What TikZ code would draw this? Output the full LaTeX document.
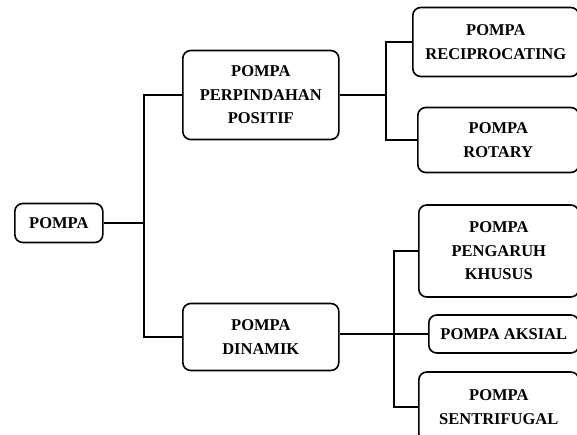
\documentclass[tikz,border=0pt]{standalone}
\usepackage{fontspec}
\setmainfont{Liberation Serif}
\usepackage{tikz}

\begin{document}
\begin{tikzpicture}[
        x=1pt, y=-1pt,
        % Styles
        pumpbox/.style={rectangle, draw, line width=1.6pt, rounded corners=8pt,
                align=center, inner sep=0pt, anchor=west,
                font=\bfseries\fontsize{16.5}{23.5}\selectfont},
        link/.style={line width=2.4pt, black},
        stub/.style={line width=1.8pt, black}, ]

        \useasboundingbox (0,0) rectangle (577,435);

        % === ROOT ===
        \node[pumpbox, minimum width=88pt, minimum height=39pt] (pompa) at (14,223) {POMPA};

        % === MAIN GROUPS ===
        \node[pumpbox, minimum width=156pt, minimum height=89pt] (positif) at (182,95) {POMPA\\PERPINDAHAN\\POSITIF};
        \node[pumpbox, minimum width=156pt, minimum height=67pt] (dinamik) at (182,337) {POMPA\\DINAMIK};

        % === POSITIVE DISPLACEMENT TYPES ===
        \node[pumpbox, minimum width=166pt, minimum height=69pt] (recip) at (412,42) {POMPA\\RECIPROCATING};
        \node[pumpbox, minimum width=161pt, minimum height=65pt] (rotary) at (417,140) {POMPA\\ROTARY};

        % === DYNAMIC TYPES ===
        \node[pumpbox, minimum width=160pt, minimum height=92pt] (khusus) at (418,251) {POMPA\\PENGARUH\\KHUSUS};
        \node[pumpbox, minimum width=150pt, minimum height=38pt] (aksial) at (428,334) {POMPA AKSIAL};
        \node[pumpbox, minimum width=160pt, minimum height=70pt] (sentri) at (418,407) {POMPA\\SENTRIFUGAL};

        % Bus points
        \coordinate (rootbus) at (144,223);
        \coordinate (posbus) at (386,95);
        \coordinate (dynbus) at (394,334);

        % Root connections
        \draw[stub] (pompa.east) -- (rootbus);
        \draw[link] (positif.west) -| (rootbus) |- (dinamik.west);

        % Positive displacement connections
        \draw[stub] (positif.east) -- (posbus);
        \draw[link] (recip.west) -| (posbus) |- (rotary.west);

        % Dynamic connections
        \draw[stub] (dinamik.east |- dynbus) -- (aksial.west);
        \draw[link] (khusus.west) -| (dynbus) |- (sentri.west);

\end{tikzpicture}
\end{document}
